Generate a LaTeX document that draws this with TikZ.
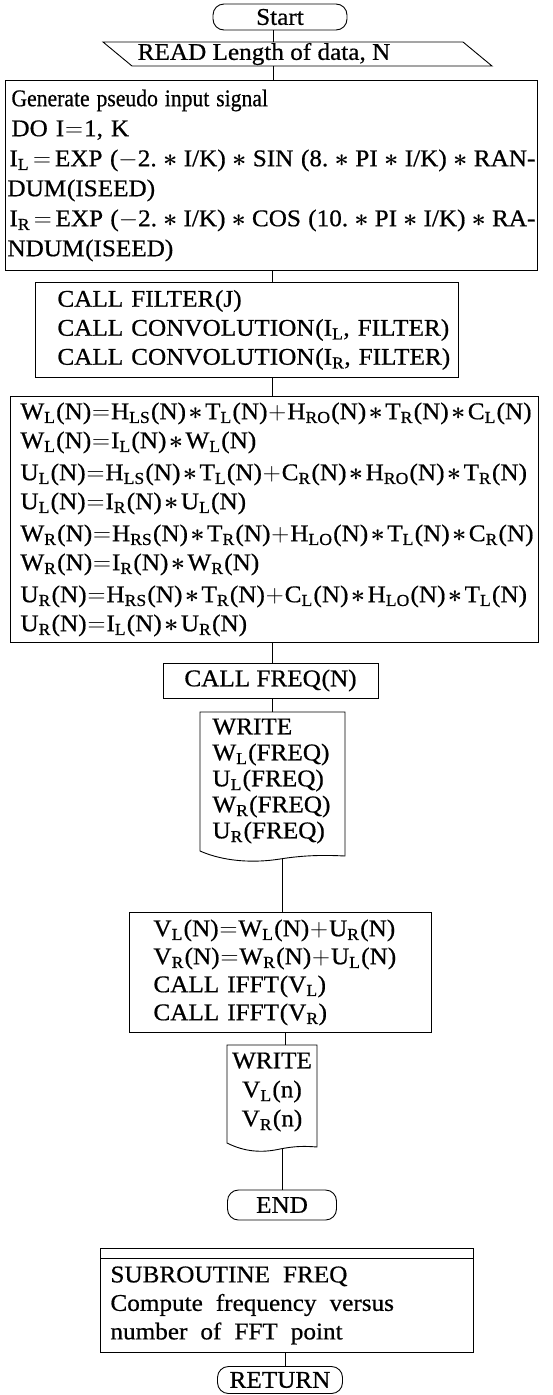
\documentclass[tikz,border=0pt]{standalone}
\usepackage{graphicx}
\usepackage{fontspec}
\setmainfont{Liberation Serif}[FakeStretch=1.05,FakeBold=0.6]
\newcommand\lp{\kern.03em(}
\newcommand\wlp{\hspace{.15em plus .4em}(}
\newcommand\rp{)}
\newcommand\sbs[1]{\textsubscript{#1}}
\newcommand\ml{\hspace{.1em plus .4em}\mbox{\boldmath$\ast$}\hspace{.1em plus .4em}}
\newcommand\eqs{\hspace{.04em plus .3em}$=$\hspace{.04em plus .3em}}
\newcommand\pls{\hspace{.04em plus .3em}$+$\hspace{.04em plus .3em}}
\newcommand\mns{$-$}
\begin{document}
\begin{tikzpicture}[x=1pt,y=-1pt,line width=0.9pt,
  every node/.style={font=\fontsize{24}{29}\selectfont},
  pbox/.style={draw,anchor=north west,inner ysep=0pt,align=left},
  term/.style={draw,rounded corners=11pt,inner sep=0pt},
  plain/.style={inner sep=0pt,align=left}]
\fill[white] (0,0) rectangle (552,1395);
\useasboundingbox (0,0) rectangle (552,1395);
\coordinate (tx) at (273,0);
\coordinate (tx2) at (272,0);
\coordinate (tx3) at (285,0);

\node[term,minimum width=134pt,minimum height=26pt] (start) at (280,17) {Start};

\node[plain,minimum height=24pt] (read) at (264,54) {READ Length of data, N};
\draw (103,42) -- (463,42) -- (492,66) -- (132,66) -- cycle;

\node[pbox,text width=528pt,inner xsep=2pt,minimum height=190pt,font=\fontsize{24}{30}\selectfont] (gen) at (5,80) {\mbox{\kern4pt\scalebox{0.86}[1]{Generate pseudo input signal}}\\
\mbox{\kern4pt DO I\eqs 1, K}\\
\makebox[528pt][s]{\kern2pt I\sbs{L}\eqs EXP\wlp\mns 2.\ml I/K\rp\ml SIN\wlp 8.\ml PI\ml I/K\rp\ml RAN-}\\
\mbox{DUM\lp ISEED\rp}\\
\makebox[528pt][s]{\kern2pt I\sbs{R}\eqs EXP\wlp\mns 2.\ml I/K\rp\ml COS\wlp 10.\ml PI\ml I/K\rp\ml RA-}\\
\mbox{NDUM\lp ISEED\rp}};

\node[pbox,text width=379pt,inner xsep=22pt,minimum height=95pt] (filt) at (35,282) {\mbox{CALL FILTER\lp J\rp}\\
\mbox{CALL CONVOLUTION\lp I\sbs{L}, FILTER\rp}\\
\mbox{CALL CONVOLUTION\lp I\sbs{R}, FILTER\rp}};

\node[pbox,text width=508pt,inner xsep=10pt,minimum height=246pt] (wbox) at (10,396) {\mbox{W\sbs{L}\lp N\rp\eqs H\sbs{LS}\lp N\rp\ml T\sbs{L}\lp N\rp\pls H\sbs{RO}\lp N\rp\ml T\sbs{R}\lp N\rp\ml C\sbs{L}\lp N\rp}\\
\mbox{W\sbs{L}\lp N\rp\eqs I\sbs{L}\lp N\rp\ml W\sbs{L}\lp N\rp}\\[3pt]
\mbox{U\sbs{L}\lp N\rp\eqs H\sbs{LS}\lp N\rp\ml T\sbs{L}\lp N\rp\pls C\sbs{R}\lp N\rp\ml H\sbs{RO}\lp N\rp\ml T\sbs{R}\lp N\rp}\\
\mbox{U\sbs{L}\lp N\rp\eqs I\sbs{R}\lp N\rp\ml U\sbs{L}\lp N\rp}\\[3pt]
\mbox{W\sbs{R}\lp N\rp\eqs H\sbs{RS}\lp N\rp\ml T\sbs{R}\lp N\rp\pls H\sbs{LO}\lp N\rp\ml T\sbs{L}\lp N\rp\ml C\sbs{R}\lp N\rp}\\
\mbox{W\sbs{R}\lp N\rp\eqs I\sbs{R}\lp N\rp\ml W\sbs{R}\lp N\rp}\\[3pt]
\mbox{U\sbs{R}\lp N\rp\eqs H\sbs{RS}\lp N\rp\ml T\sbs{R}\lp N\rp\pls C\sbs{L}\lp N\rp\ml H\sbs{LO}\lp N\rp\ml T\sbs{L}\lp N\rp}\\
\mbox{U\sbs{R}\lp N\rp\eqs I\sbs{L}\lp N\rp\ml U\sbs{R}\lp N\rp}};

\node[draw,minimum width=215pt,minimum height=35pt,inner sep=0pt] (freq) at (270.5,680.5) {CALL FREQ\lp N\rp};

\coordinate (w1top) at (273,712);
\node[plain,anchor=west,font=\fontsize{24}{26}\selectfont] (w1) at (212,781) {WRITE\\
W\sbs{L}\lp FREQ\rp\\
U\sbs{L}\lp FREQ\rp\\
W\sbs{R}\lp FREQ\rp\\
U\sbs{R}\lp FREQ\rp};
\draw (200,712) -- (200,851) .. controls (225,862) and (255,863) .. (280,859)
  .. controls (305,855) and (325,855) .. (345,856) -- (345,712) -- cycle;
\coordinate (w1b) at (282,858.5);

\node[pbox,text width=254pt,inner xsep=24pt,minimum height=120pt,font=\fontsize{24}{28}\selectfont] (vbox) at (129,912) {\mbox{V\sbs{L}\lp N\rp\eqs W\sbs{L}\lp N\rp\pls U\sbs{R}\lp N\rp}\\
\mbox{V\sbs{R}\lp N\rp\eqs W\sbs{R}\lp N\rp\pls U\sbs{L}\lp N\rp}\\
\mbox{CALL IFFT\lp V\sbs{L}\rp}\\
\mbox{CALL IFFT\lp V\sbs{R}\rp}};

\coordinate (w2top) at (285,1045);
\node[plain,align=center] (w2) at (272,1092) {WRITE\\V\sbs{L}\lp n\rp\\V\sbs{R}\lp n\rp};
\draw (227,1045) -- (227,1143) .. controls (245,1152) and (262,1153) .. (280,1149)
  .. controls (295,1146) and (305,1146) .. (317,1147) -- (317,1045) -- cycle;
\coordinate (w2b) at (282,1149);

\node[term,minimum width=109pt,minimum height=30pt] (end) at (282,1205) {END};

\node[pbox,text width=353pt,inner xsep=10pt,minimum height=94pt,font=\fontsize{24}{28.5}\selectfont] (sub) at (100,1258) {\spaceskip=13pt SUBROUTINE FREQ\\
Compute frequency versus\\
number of FFT point};
\draw (sub.north west) -- ++(0,-10) -| (sub.north east);

\node[term,minimum width=125pt,minimum height=27pt] (ret) at (280,1380) {RETURN};

\draw (start.south -| tx) -- (read.north -| tx);
\draw (read.south -| tx) -- (gen.north -| tx);
\draw (gen.south -| tx2) -- (filt.north -| tx2);
\draw (filt.south -| tx2) -- (wbox.north -| tx2);
\draw (wbox.south -| tx2) -- (freq.north -| tx2);
\draw (freq.south -| tx2) -- (w1top -| tx2);
\draw (w1b) -- (vbox.north -| w1b);
\draw (vbox.south -| tx3) -- (w2top -| tx3);
\draw (w2b) -- (end.north -| w2b);
\draw (sub.south -| tx3) -- (ret.north -| tx3);
\end{tikzpicture}
\end{document}
